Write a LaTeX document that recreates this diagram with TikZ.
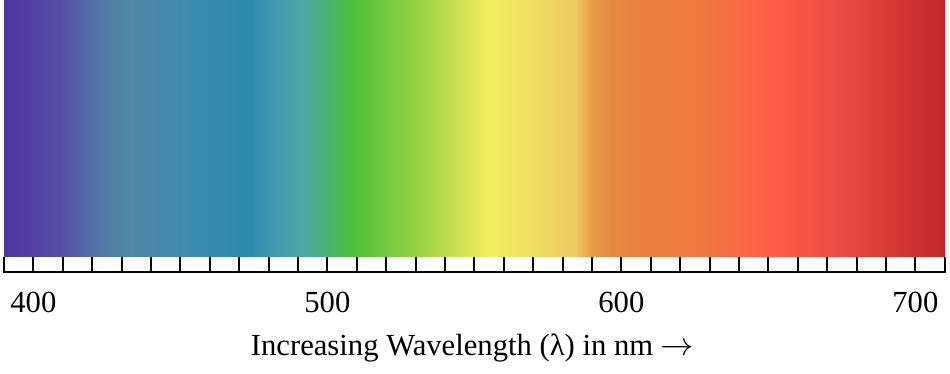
\documentclass[tikz,border=0pt]{standalone}
\usepackage{fontspec}
\setmainfont{Liberation Serif}
\usetikzlibrary{positioning}

\definecolor{sp01}{HTML}{4E36A0}
\definecolor{sp02}{HTML}{5240A2}
\definecolor{sp03}{HTML}{5450A4}
\definecolor{sp04}{HTML}{5078A8}
\definecolor{sp05}{HTML}{5088A8}
\definecolor{sp06}{HTML}{3A8AAE}
\definecolor{sp07}{HTML}{2A8AAD}
\definecolor{sp08}{HTML}{3E98B0}
\definecolor{sp09}{HTML}{50A8A8}
\definecolor{sp10}{HTML}{48B080}
\definecolor{sp11}{HTML}{4CC03A}
\definecolor{sp12}{HTML}{6CC840}
\definecolor{sp13}{HTML}{90D040}
\definecolor{sp14}{HTML}{C8E050}
\definecolor{sp15}{HTML}{F0F060}
\definecolor{sp16}{HTML}{F0E060}
\definecolor{sp17}{HTML}{F0C860}
\definecolor{sp18}{HTML}{E8A048}
\definecolor{sp19}{HTML}{E48A40}
\definecolor{sp20}{HTML}{EE7E40}
\definecolor{sp21}{HTML}{F07840}
\definecolor{sp22}{HTML}{FF5E48}
\definecolor{sp23}{HTML}{E84840}
\definecolor{sp24}{HTML}{C02828}

\pgfdeclarehorizontalshading{visible}{100bp}{color(0bp)=(sp01); color(25bp)=(sp01);
  color(26.38bp)=(sp02); color(27.98bp)=(sp03); color(30.10bp)=(sp04);
  color(31.70bp)=(sp05); color(35.42bp)=(sp06); color(38.07bp)=(sp07);
  color(39.14bp)=(sp08); color(40.89bp)=(sp09); color(41.79bp)=(sp10);
  color(43.49bp)=(sp11); color(44.98bp)=(sp12); color(46.58bp)=(sp13);
  color(48.97bp)=(sp14); color(50.67bp)=(sp15); color(52.96bp)=(sp16);
  color(55.35bp)=(sp17); color(56.14bp)=(sp18); color(57.21bp)=(sp19);
  color(59.33bp)=(sp20); color(61.99bp)=(sp21); color(65.71bp)=(sp22);
  color(69.96bp)=(sp23); color(75bp)=(sp24); color(100bp)=(sp24)}

\begin{document}
\begin{tikzpicture}[x=0.75pt,y=-0.75pt,
    tickline/.style={line width=1.5pt},
    font=\fontsize{23}{27}\selectfont]
  \useasboundingbox (0,0) rectangle (950,374);
  \shade[shading=visible] (4,0) rectangle (944.8,257);
  \draw[tickline, line cap=rect] (4,272) -- (944.8,272);
  \foreach \k in {0,...,32}
    \draw[tickline] (4+29.4*\k,257) -- (4+29.4*\k,272);
  \foreach \n [count=\i from 0] in {400,500,600,700}
    \node[anchor=base, inner sep=0pt] (l\n) at (33.4+294*\i,312) {\n};
  \node[anchor=base, inner sep=0pt] (caption) at (472.5,355)
    {Increasing Wavelength (λ) in nm $\rightarrow$};
\end{tikzpicture}
\end{document}
